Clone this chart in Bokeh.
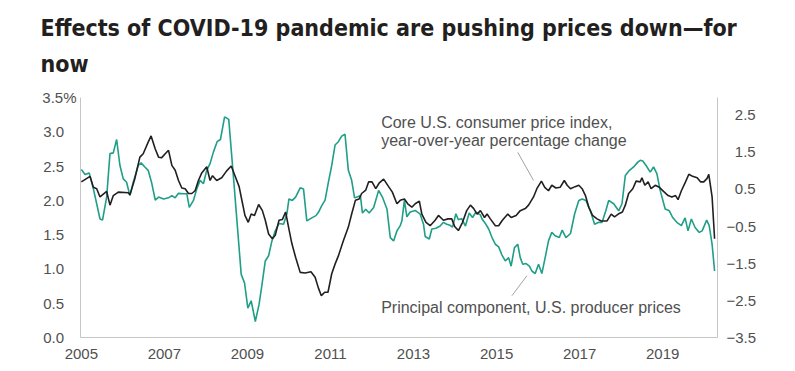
from bokeh.plotting import figure
from bokeh.models import (Range1d, LinearAxis, FixedTicker, Title, Label, Arrow)
from bokeh.embed import file_html
from bokeh.resources import INLINE

# ---------------- data ----------------
cpi_dates = [2005.00, 2005.21, 2005.29, 2005.37, 2005.45, 2005.61, 2005.69, 2005.77, 2005.89,
             2006.13, 2006.17, 2006.29, 2006.41, 2006.49, 2006.61, 2006.68, 2006.78, 2006.86,
             2006.93, 2007.02, 2007.10, 2007.18, 2007.26, 2007.34, 2007.42, 2007.50, 2007.58,
             2007.66, 2007.74, 2007.82, 2007.90, 2008.02, 2008.10, 2008.16, 2008.26, 2008.38,
             2008.50, 2008.61, 2008.70, 2008.80, 2008.86, 2008.94, 2009.02, 2009.09, 2009.17,
             2009.27, 2009.36, 2009.43, 2009.51, 2009.60, 2009.67, 2009.76, 2009.84, 2009.92,
             2009.99, 2010.07, 2010.16, 2010.27, 2010.39, 2010.53, 2010.63, 2010.71, 2010.78,
             2010.86, 2010.94, 2011.03, 2011.11, 2011.19, 2011.31, 2011.43, 2011.51, 2011.60,
             2011.69, 2011.75, 2011.85, 2011.92, 2012.00, 2012.09, 2012.17, 2012.28, 2012.40,
             2012.49, 2012.60, 2012.68, 2012.78, 2012.86, 2012.96, 2013.04, 2013.14, 2013.20,
             2013.30, 2013.40, 2013.52, 2013.60, 2013.72, 2013.83, 2013.92, 2013.99, 2014.08,
             2014.18, 2014.28, 2014.37, 2014.45, 2014.53, 2014.61, 2014.71, 2014.77, 2014.85,
             2014.97, 2015.05, 2015.14, 2015.27, 2015.35, 2015.47, 2015.57, 2015.69, 2015.77,
             2015.89, 2015.97, 2016.08, 2016.16, 2016.25, 2016.33, 2016.43, 2016.53, 2016.63,
             2016.70, 2016.78, 2016.89, 2016.98, 2017.06, 2017.14, 2017.22, 2017.31, 2017.42,
             2017.52, 2017.66, 2017.76, 2017.84, 2017.93, 2018.03, 2018.10, 2018.18, 2018.28,
             2018.36, 2018.46, 2018.50, 2018.57, 2018.65, 2018.72, 2018.82, 2018.92, 2019.02,
             2019.13, 2019.22, 2019.31, 2019.37, 2019.45, 2019.55, 2019.63, 2019.72, 2019.83,
             2019.91, 2019.99, 2020.07, 2020.11, 2020.19, 2020.25]
cpi_values = [2.27, 2.35, 2.19, 2.17, 2.05, 2.13, 1.93, 2.07, 2.12,
              2.11, 2.08, 2.32, 2.63, 2.68, 2.85, 2.94, 2.75, 2.63,
              2.62, 2.68, 2.73, 2.51, 2.44, 2.29, 2.18, 2.17, 2.10,
              2.10, 2.14, 2.29, 2.40, 2.49, 2.29, 2.36, 2.29, 2.33,
              2.43, 2.50, 2.36, 2.20, 2.02, 1.78, 1.68, 1.80, 1.78,
              1.94, 1.85, 1.71, 1.51, 1.44, 1.49, 1.71, 1.72, 1.83,
              1.61, 1.37, 1.17, 0.95, 0.94, 0.96, 0.88, 0.72, 0.61,
              0.66, 0.66, 0.93, 1.07, 1.19, 1.41, 1.61, 1.80, 2.00,
              2.02, 2.10, 2.15, 2.27, 2.27, 2.17, 2.25, 2.31, 2.20,
              2.12, 1.95, 2.00, 2.02, 1.95, 1.90, 1.95, 1.99, 1.80,
              1.68, 1.63, 1.71, 1.78, 1.71, 1.73, 1.73, 1.62, 1.56,
              1.68, 1.85, 1.93, 1.88, 1.80, 1.85, 1.75, 1.80, 1.73,
              1.63, 1.63, 1.71, 1.80, 1.75, 1.78, 1.85, 1.88, 1.93,
              2.05, 2.17, 2.28, 2.19, 2.14, 2.22, 2.18, 2.19, 2.29,
              2.22, 2.17, 2.20, 2.22, 2.17, 2.07, 1.90, 1.78, 1.73,
              1.70, 1.70, 1.80, 1.76, 1.80, 1.83, 1.93, 2.10, 2.17,
              2.28, 2.27, 2.33, 2.22, 2.27, 2.17, 2.22, 2.19, 2.13,
              2.07, 2.05, 2.07, 2.01, 2.14, 2.27, 2.38, 2.35, 2.33,
              2.27, 2.27, 2.32, 2.38, 2.05, 1.44]

pc_dates = [2005.00, 2005.09, 2005.19, 2005.29, 2005.37, 2005.45, 2005.51, 2005.61, 2005.69,
            2005.77, 2005.85, 2005.93, 2006.01, 2006.09, 2006.17, 2006.25, 2006.37, 2006.44,
            2006.53, 2006.61, 2006.69, 2006.78, 2006.86, 2006.98, 2007.10, 2007.18, 2007.26,
            2007.34, 2007.46, 2007.54, 2007.60, 2007.70, 2007.78, 2007.86, 2007.94, 2008.02,
            2008.10, 2008.18, 2008.27, 2008.35, 2008.45, 2008.55, 2008.67, 2008.85, 2008.93,
            2009.01, 2009.09, 2009.19, 2009.28, 2009.34, 2009.43, 2009.51, 2009.59, 2009.67,
            2009.76, 2009.87, 2009.95, 2010.00, 2010.08, 2010.16, 2010.27, 2010.35, 2010.43,
            2010.55, 2010.65, 2010.71, 2010.79, 2010.87, 2010.95, 2011.03, 2011.11, 2011.19,
            2011.27, 2011.35, 2011.43, 2011.51, 2011.58, 2011.66, 2011.72, 2011.77, 2011.85,
            2011.93, 2012.04, 2012.16, 2012.25, 2012.36, 2012.44, 2012.52, 2012.60, 2012.68,
            2012.72, 2012.78, 2012.84, 2012.92, 2013.04, 2013.16, 2013.24, 2013.28, 2013.38,
            2013.44, 2013.54, 2013.64, 2013.72, 2013.80, 2013.88, 2013.94, 2014.02, 2014.08,
            2014.16, 2014.25, 2014.34, 2014.42, 2014.50, 2014.61, 2014.65, 2014.73, 2014.81,
            2014.89, 2014.97, 2015.05, 2015.13, 2015.21, 2015.29, 2015.35, 2015.43, 2015.51,
            2015.57, 2015.63, 2015.71, 2015.79, 2015.85, 2015.93, 2016.01, 2016.09, 2016.17,
            2016.25, 2016.33, 2016.41, 2016.51, 2016.58, 2016.67, 2016.78, 2016.88, 2016.98,
            2017.06, 2017.15, 2017.26, 2017.36, 2017.46, 2017.54, 2017.63, 2017.70, 2017.82,
            2017.94, 2018.02, 2018.10, 2018.20, 2018.30, 2018.40, 2018.46, 2018.52, 2018.60,
            2018.70, 2018.78, 2018.86, 2018.94, 2019.06, 2019.16, 2019.24, 2019.34, 2019.45,
            2019.54, 2019.61, 2019.69, 2019.78, 2019.88, 2019.95, 2020.06, 2020.12, 2020.19,
            2020.25]
pc_values = [1.02, 0.89, 0.93, 0.50, 0.10, -0.31, -0.34, 0.28, 1.45,
             1.47, 1.83, 1.13, 0.77, 0.68, 0.32, 0.68, 1.13, 1.20,
             1.09, 1.00, 0.68, 0.20, 0.28, 0.23, 0.26, 0.32, 0.26,
             0.38, 0.37, 0.37, 0.00, 0.19, 0.50, 0.73, 0.64, 1.00,
             1.18, 1.49, 1.77, 1.83, 2.44, 2.37, 0.73, -1.80, -2.03,
             -2.71, -2.51, -3.07, -2.61, -2.16, -1.44, -1.30, -0.90, -0.63,
             -0.43, -0.45, -0.17, 0.23, 0.19, 0.28, 0.53, 0.50, -0.36,
             -0.28, -0.22, -0.13, 0.05, 0.20, 0.68, 1.13, 1.68, 1.77,
             1.92, 1.97, 1.00, 0.73, 0.26, 0.29, 0.32, -0.15, -0.05,
             -0.15, 0.00, 0.46, 0.28, -0.04, -0.81, -0.90, -0.63, -0.49,
             -0.36, 0.19, -0.25, -0.12, -0.08, -0.18, -0.45, -0.78, -0.85,
             -0.58, -0.56, -0.50, -0.40, -0.45, -0.48, -0.53, -0.17, -0.33,
             -0.30, -0.50, -0.15, -0.27, -0.13, -0.20, -0.31, -0.43, -0.58,
             -0.81, -0.99, -1.06, -1.28, -1.44, -1.35, -1.58, -1.08, -0.99,
             -1.35, -1.53, -1.51, -1.58, -1.71, -1.78, -1.53, -1.78, -1.35,
             -0.90, -0.67, -0.76, -0.81, -0.61, -0.81, -0.70, -0.17, 0.19,
             0.23, 0.19, -0.09, -0.45, -0.40, -0.40, -0.09, 0.19, 0.10,
             -0.09, 0.10, 0.86, 1.00, 1.09, 1.22, 1.27, 1.25, 1.13,
             0.95, 1.09, 0.91, 0.46, -0.04, -0.09, -0.27, -0.40, -0.49,
             -0.28, -0.63, -0.31, -0.54, -0.67, -0.63, -0.34, -0.49, -0.99,
             -1.71]

year_ticks = [2005, 2007, 2009, 2011, 2013, 2015, 2017, 2019]
year_labels = ["2005", "2007", "2009", "2011", "2013", "2015", "2017", "2019"]
left_ticks = [0.0, 0.5, 1.0, 1.5, 2.0, 2.5, 3.0, 3.5]
left_labels = ["0.0", "0.5", "1.0", "1.5", "2.0", "2.5", "3.0", "3.5%"]
right_ticks = [-3.5, -2.5, -1.5, -0.5, 0.5, 1.5, 2.5]
right_labels = ["\u22123.5", "\u22122.5", "\u22121.5", "\u22120.5", "0.5", "1.5", "2.5"]

title_line1 = "Effects of COVID-19 pandemic are pushing prices down\u2014for"
title_line2 = "now"
cpi_note = ["Core U.S. consumer price index,", "year-over-year percentage change"]
pc_note = "Principal component, U.S. producer prices"

# ---------------- styles ----------------
BLACK = "#231f20"
TEAL = "#1f9e88"
AXIS_GRAY = "#c6c6c6"
LABEL_GRAY = "#505050"
FONT = "Liberation Sans"
TFONT = "DejaVu Sans Condensed"
PAD_PCT = "\u2007\u00a0"      # roughly the width of a "%" sign
PAD_MINUS = "\u2007"          # roughly the width of a minus sign

W, H = 795, 371
p = figure(width=W, height=H, output_backend="svg", toolbar_location=None,
           x_range=Range1d(2004.98, 2020.32), y_range=Range1d(0, 3.5),
           min_border_left=80, min_border_right=78, min_border_top=97,
           min_border_bottom=34)
p.extra_y_ranges = {"pc": Range1d(-3.5, 2.96)}
p.outline_line_color = None
p.xgrid.visible = False
p.ygrid.visible = False
p.background_fill_color = "white"
p.border_fill_color = "white"

def style_axis(ax, standoff):
    ax.axis_line_color = AXIS_GRAY
    ax.axis_line_width = 1
    ax.major_tick_line_color = None
    ax.minor_tick_line_color = None
    ax.major_tick_out = 0
    ax.major_tick_in = 0
    ax.major_label_standoff = standoff
    ax.major_label_text_font = FONT
    ax.major_label_text_font_size = "15px"
    ax.major_label_text_color = LABEL_GRAY

xa = p.xaxis[0]
xa.ticker = FixedTicker(ticks=year_ticks)
xa.major_label_overrides = {t: l for t, l in zip(year_ticks, year_labels)}
style_axis(xa, 11)

ya = p.yaxis[0]
ya.ticker = FixedTicker(ticks=left_ticks)
ya.major_label_overrides = {t: (l if l.endswith("%") else l + PAD_PCT)
                            for t, l in zip(left_ticks, left_labels)}
style_axis(ya, 4)

ra = LinearAxis(y_range_name="pc", ticker=FixedTicker(ticks=right_ticks))
ra.major_label_overrides = {t: (l if l.startswith("\u2212") else PAD_MINUS + l)
                            for t, l in zip(right_ticks, right_labels)}
style_axis(ra, 9)
p.add_layout(ra, "right")

# series
p.line(pc_dates, pc_values, y_range_name="pc", line_color=TEAL, line_width=1.6)
p.line(cpi_dates, cpi_values, line_color=BLACK, line_width=1.6)

# annotations
for i, txt in enumerate(cpi_note):
    p.add_layout(Label(x=2012.22, y=3.14 - 0.26 * i, text=txt, text_font=FONT,
                       text_font_size="16px", text_color=LABEL_GRAY,
                       text_baseline="middle", text_align="left"))
p.add_layout(Label(x=2012.22, y=0.44, text=pc_note, text_font=FONT,
                   text_font_size="16px", text_color=LABEL_GRAY,
                   text_baseline="middle", text_align="left"))
p.add_layout(Arrow(end=None, x_start=2015.51, y_start=2.70, x_end=2015.89, y_end=2.29,
                   line_color="#8a8a8a", line_width=0.8))
p.add_layout(Arrow(end=None, x_start=2015.37, y_start=0.61, x_end=2015.73, y_end=0.90,
                   line_color="#8a8a8a", line_width=0.8))

# title (two lines)
t2 = Title(text=title_line2, align="left", offset=-40, text_font=TFONT,
           text_font_size="23px", text_font_style="bold", text_color=BLACK, standoff=42)
t1 = Title(text=title_line1, align="left", offset=-40, text_font=TFONT,
           text_font_size="23px", text_font_style="bold", text_color=BLACK, standoff=-26)
p.add_layout(t2, "above")
p.add_layout(t1, "above")

open("out.html", "w").write(file_html(p, INLINE))
